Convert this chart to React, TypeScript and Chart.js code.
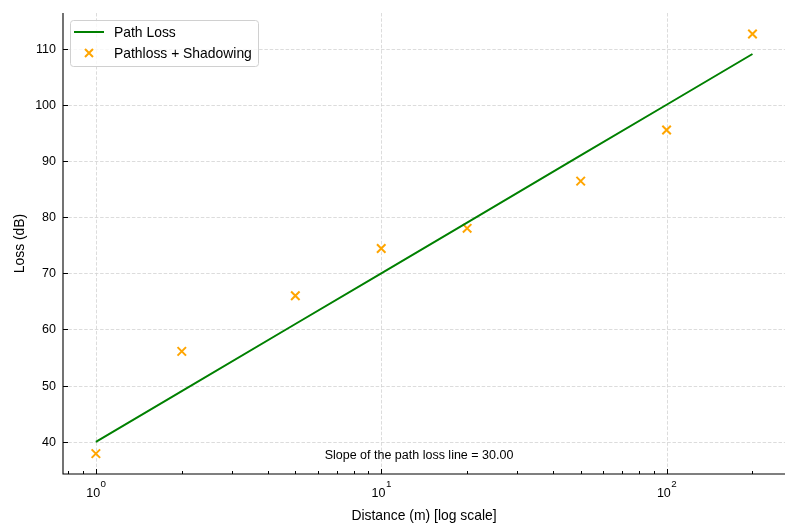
import React, { useEffect, useRef } from "react";
import { Chart, registerables } from "chart.js";

Chart.register(...registerables);

const distances = [1, 2, 5, 10, 20, 50, 100, 200];
const pathLoss = [40, 49.03, 60.97, 70, 79.03, 90.97, 100, 109.03];
const shadowed = [37.9, 56.1, 66.0, 74.4, 78.0, 86.4, 95.5, 112.6];
const yTicks = [40, 50, 60, 70, 80, 90, 100, 110];
const xMajorTicks = [1, 10, 100];
const xMajorExp = ["0", "1", "2"];
const xMinorTicks = [0.8, 0.9, 2, 3, 4, 5, 6, 7, 8, 9, 20, 30, 40, 50, 60, 70, 80, 90, 200];
const legendLabels = ["Path Loss", "Pathloss + Shadowing"];
const annotationText = "Slope of the path loss line = 30.00";
const xTitle = "Distance (m) [log scale]";
const yTitle = "Loss (dB)";

const FONT = "'Liberation Sans', Arial, Helvetica, sans-serif";
const GREEN = "#008000";
const ORANGE = "#FFA500";

const axesPlugin = {
  id: "mplAxes",
  beforeDatasetsDraw(chart: any) {
    const { ctx, chartArea: a, scales } = chart;
    const xs = scales.x, ys = scales.y;
    ctx.save();
    ctx.strokeStyle = "#d3d3d3";
    ctx.lineWidth = 0.8;
    ctx.setLineDash([3.5, 1.8]);
    for (const v of xMajorTicks) {
      const x = Math.round(xs.getPixelForValue(v)) + 0.5;
      ctx.beginPath();
      ctx.moveTo(x, a.top);
      ctx.lineTo(x, a.bottom);
      ctx.stroke();
    }
    for (const v of yTicks) {
      const y = Math.round(ys.getPixelForValue(v)) + 0.5;
      ctx.beginPath();
      ctx.moveTo(a.left, y);
      ctx.lineTo(a.right, y);
      ctx.stroke();
    }
    ctx.restore();
  },
  afterDatasetsDraw(chart: any) {
    const { ctx, chartArea: a, scales } = chart;
    const xs = scales.x, ys = scales.y;
    ctx.save();
    // spines
    ctx.strokeStyle = "#000";
    ctx.lineWidth = 1.1;
    ctx.beginPath();
    ctx.moveTo(a.left, a.top);
    ctx.lineTo(a.left, a.bottom);
    ctx.lineTo(a.right, a.bottom);
    ctx.stroke();
    // ticks (inward)
    ctx.lineWidth = 1;
    for (const v of xMajorTicks) {
      const x = Math.round(xs.getPixelForValue(v)) + 0.5;
      ctx.beginPath();
      ctx.moveTo(x, a.bottom);
      ctx.lineTo(x, a.bottom - 5);
      ctx.stroke();
    }
    for (const v of xMinorTicks) {
      const x = Math.round(xs.getPixelForValue(v)) + 0.5;
      ctx.beginPath();
      ctx.moveTo(x, a.bottom);
      ctx.lineTo(x, a.bottom - 3);
      ctx.stroke();
    }
    for (const v of yTicks) {
      const y = Math.round(ys.getPixelForValue(v)) + 0.5;
      ctx.beginPath();
      ctx.moveTo(a.left, y);
      ctx.lineTo(a.left + 5, y);
      ctx.stroke();
    }
    // y tick labels
    ctx.fillStyle = "#000";
    ctx.font = `12.5px ${FONT}`;
    ctx.textAlign = "right";
    ctx.textBaseline = "middle";
    for (const v of yTicks) {
      ctx.fillText(String(v), a.left - 7, ys.getPixelForValue(v) + 0.5);
    }
    // x tick labels with superscripts
    ctx.textBaseline = "alphabetic";
    ctx.textAlign = "left";
    xMajorTicks.forEach((v, i) => {
      const x = xs.getPixelForValue(v);
      ctx.font = `12.5px ${FONT}`;
      const w1 = ctx.measureText("10").width;
      ctx.font = `9.8px ${FONT}`;
      const w2 = ctx.measureText(xMajorExp[i]).width;
      const x0 = x - (w1 + w2) / 2;
      ctx.font = `12.5px ${FONT}`;
      ctx.fillText("10", x0, 497);
      ctx.font = `9.8px ${FONT}`;
      ctx.fillText(xMajorExp[i], x0 + w1 + 0.5, 487);
    });
    // axis titles
    ctx.font = `13.9px ${FONT}`;
    ctx.textAlign = "center";
    ctx.fillText(xTitle, (a.left + a.right) / 2, 520);
    ctx.save();
    ctx.translate(20, (a.top + a.bottom) / 2);
    ctx.rotate(-Math.PI / 2);
    ctx.textBaseline = "middle";
    ctx.fillText(yTitle, 0, 0);
    ctx.restore();
    // annotation
    ctx.font = `12.5px ${FONT}`;
    ctx.textAlign = "center";
    ctx.textBaseline = "alphabetic";
    ctx.fillText(annotationText, 419, 459);
    // legend
    const lx = 70.5, ly = 20.5, lw = 188, lh = 46, r = 3;
    ctx.beginPath();
    ctx.moveTo(lx + r, ly);
    ctx.lineTo(lx + lw - r, ly);
    ctx.arcTo(lx + lw, ly, lx + lw, ly + r, r);
    ctx.lineTo(lx + lw, ly + lh - r);
    ctx.arcTo(lx + lw, ly + lh, lx + lw - r, ly + lh, r);
    ctx.lineTo(lx + r, ly + lh);
    ctx.arcTo(lx, ly + lh, lx, ly + lh - r, r);
    ctx.lineTo(lx, ly + r);
    ctx.arcTo(lx, ly, lx + r, ly, r);
    ctx.closePath();
    ctx.fillStyle = "rgba(255,255,255,0.8)";
    ctx.fill();
    ctx.strokeStyle = "#d0d0d0";
    ctx.lineWidth = 1;
    ctx.stroke();
    ctx.strokeStyle = GREEN;
    ctx.lineWidth = 2;
    ctx.beginPath();
    ctx.moveTo(74, 32);
    ctx.lineTo(104, 32);
    ctx.stroke();
    ctx.strokeStyle = ORANGE;
    ctx.beginPath();
    ctx.moveTo(85, 49);
    ctx.lineTo(93, 57);
    ctx.moveTo(93, 49);
    ctx.lineTo(85, 57);
    ctx.stroke();
    ctx.fillStyle = "#000";
    ctx.font = `13.9px ${FONT}`;
    ctx.textAlign = "left";
    ctx.textBaseline = "alphabetic";
    ctx.fillText(legendLabels[0], 114, 37);
    ctx.fillText(legendLabels[1], 114, 58);
    ctx.restore();
  },
};

export default function App() {
  const ref = useRef<HTMLCanvasElement>(null);
  useEffect(() => {
    if (!ref.current) return;
    const chart = new Chart(ref.current, {
      type: "scatter",
      data: {
        datasets: [
          {
            label: legendLabels[0],
            data: distances.map((d, i) => ({ x: d, y: pathLoss[i] })),
            showLine: true,
            borderColor: GREEN,
            backgroundColor: GREEN,
            borderWidth: 2,
            pointRadius: 0,
            tension: 0,
          },
          {
            label: legendLabels[1],
            data: distances.map((d, i) => ({ x: d, y: shadowed[i] })),
            showLine: false,
            pointStyle: "crossRot",
            pointRadius: 6,
            borderColor: ORANGE,
            backgroundColor: ORANGE,
            pointBorderWidth: 2,
            borderWidth: 2,
          },
        ],
      },
      options: {
        responsive: false,
        animation: false,
        devicePixelRatio: 1,
        layout: { padding: { left: 63, right: 15, top: 13, bottom: 54 } },
        plugins: { legend: { display: false }, tooltip: { enabled: false } },
        scales: {
          x: { type: "logarithmic", min: 0.767, max: 260, display: false },
          y: { type: "linear", min: 34.27, max: 116.33, display: false },
        },
      },
      plugins: [axesPlugin],
    });
    return () => chart.destroy();
  }, []);
  return (
    <div style={{ position: "fixed", left: 0, top: 0, width: 800, height: 528, background: "#fff" }}>
      <canvas ref={ref} width={800} height={528} style={{ display: "block" }} />
    </div>
  );
}
